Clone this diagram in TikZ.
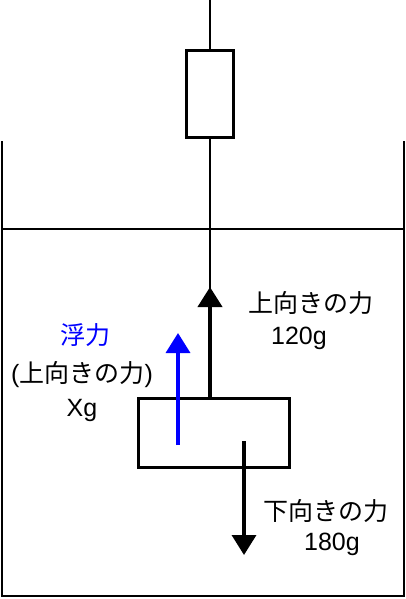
\documentclass[tikz,border=0pt]{standalone}
\usepackage{fontspec}
\setmainfont{Liberation Sans}
\newfontfamily\jp{Noto Sans CJK JP}
\usetikzlibrary{arrows.meta}
\tikzset{
  thread/.style={line width=1.3pt},
  box/.style={draw,line width=3pt,inner sep=0pt},
  force/.style={line width=4pt,-{Triangle[length=20pt,width=24pt]}},
  txt/.style={inner sep=0pt,font=\fontsize{25}{30}\selectfont}
}
\begin{document}
\begin{tikzpicture}[x=1pt,y=-1pt]
\useasboundingbox (0,0) rectangle (406,599);
\draw[thread] (2,141) coordinate (tl) -- (2,596) -- (404,596) -- (404,141) coordinate (tr);
\draw[thread] (2,229) coordinate (wl) -- (404,229) coordinate (wr);
\node[box,minimum width=47pt,minimum height=87pt] (spring) at (210,94) {};
\node[box,minimum width=151pt,minimum height=69pt] (weight) at (214,433) {};
\coordinate (top) at (210,0);
\coordinate (hook) at (210,290);
\draw[thread] (top) -- (spring.north);
\draw[thread] (spring.south) -- (hook);
\coordinate (up) at (210,287);
\coordinate (down) at (244,555);
\coordinate (buoy) at (178,333);
\draw[force] (weight.north -| up) -- (up);
\draw[force,line width=3.5pt] (244,441) coordinate (g) -- (down);
\draw[force,blue,line width=3.5pt] (178,445) coordinate (b) -- (buoy);
\node[txt] (uplbl) at (311,303) {\jp 上向きの力};
\node[txt] (upval) at (299,338) {120g};
\node[txt,blue] (buoylbl) at (85,335) {\jp 浮力};
\node[txt] (buoydir) at (82,375) {(\jp 上向きの力\rmfamily)};
\node[txt] (buoyval) at (82,410) {Xg};
\node[txt] (downlbl) at (326,511) {\jp 下向きの力};
\node[txt] (downval) at (332,544) {180g};
\end{tikzpicture}
\end{document}
